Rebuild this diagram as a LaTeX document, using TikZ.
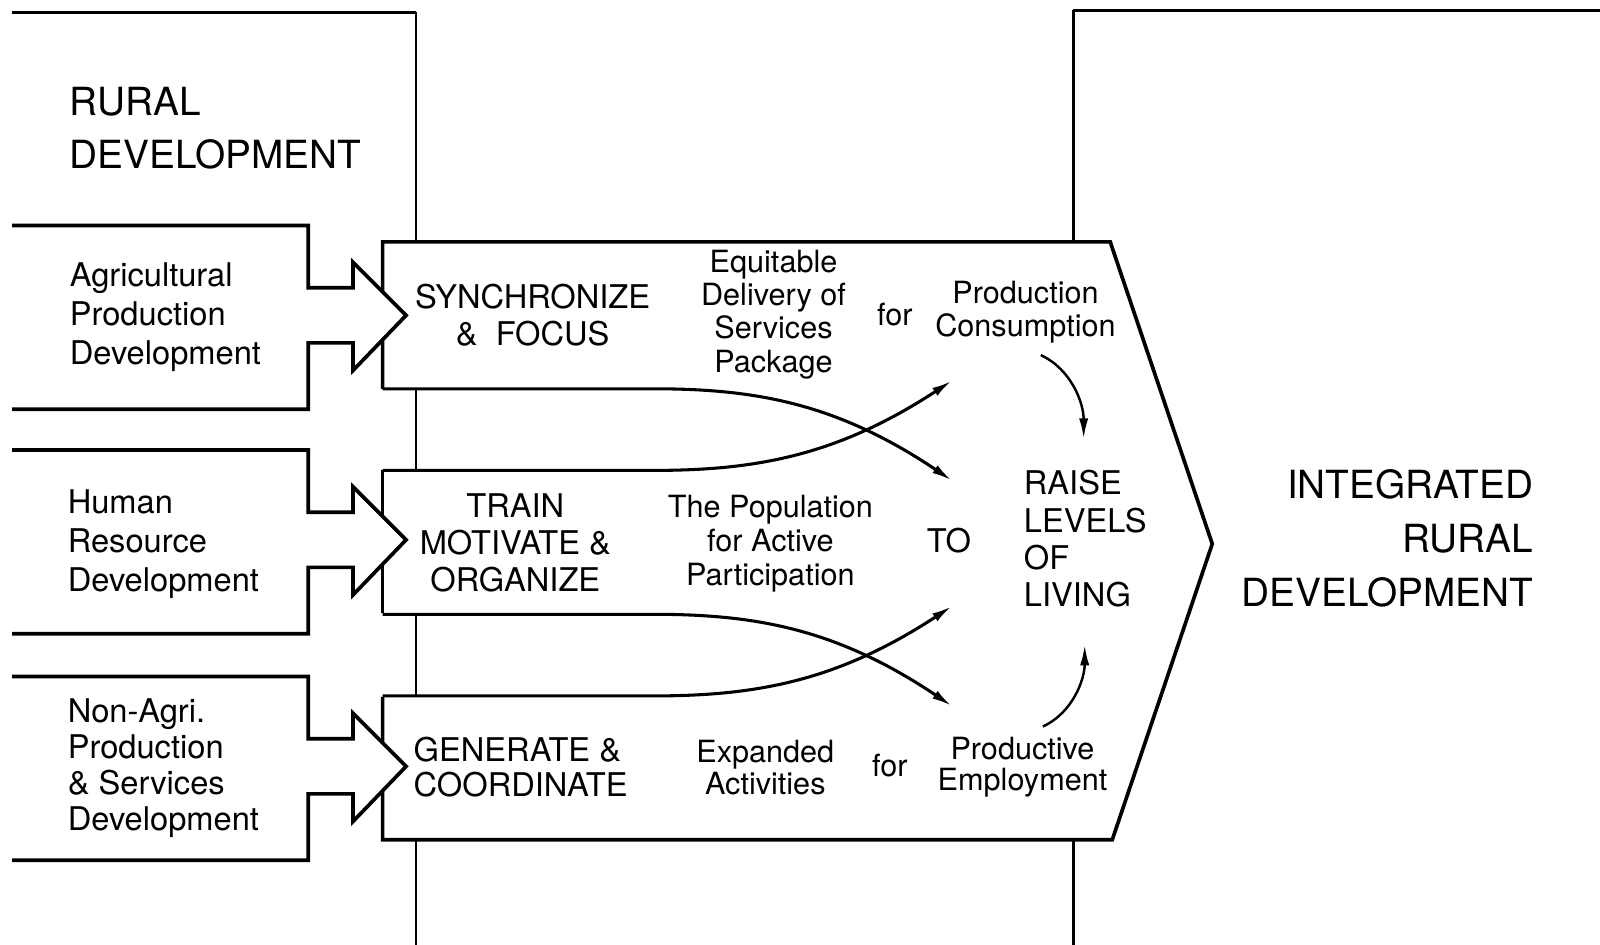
\documentclass[tikz,border=0pt]{standalone}
\usepackage{fontspec}
\setmainfont{TeX Gyre Heros}
\usetikzlibrary{arrows.meta}
\tikzset{
  frame/.style={line width=1pt},
  box/.style={line width=1.8pt, line join=miter},
  flow/.style={line width=1.5pt, -{Latex[length=10pt,width=4.5pt]}},
  big/.style={font=\fontsize{19}{26}\selectfont, inner sep=0pt},
  caps/.style={font=\fontsize{16}{18.3}\selectfont, inner sep=0pt},
  small/.style={font=\fontsize{15}{16.3}\selectfont, inner sep=0pt, align=center},
  src/.style={font=\fontsize{16}{19}\selectfont, inner sep=0pt, align=left},
}
\begin{document}
\begin{tikzpicture}[x=0.5pt, y=-0.5pt]
\useasboundingbox (0,0) rectangle (1568,926);

% background frames
\draw[frame, line width=1.4pt] (12,12) -- (408,12);
\draw[frame] (408,12) -- (408,926);
\draw[frame, line width=1.4pt] (1052,10) -- (1568,10);
\draw[frame] (1052,10) -- (1052,926);

% central block
\fill[white] (375,237) -- (1088,237) -- (1188,533) -- (1090,823) -- (375,823) -- cycle;
\draw[frame] (408,381) -- (408,461);
\draw[frame] (408,601) -- (408,683);
\draw[box] (375,381) -- (375,237) -- (1088,237) -- (1188,533) -- (1090,823) -- (375,823) -- (375,683);
\draw[box] (375,461) -- (375,601);

% crossing flows
\foreach \dy in {0,221} {
  \draw[flow] (375,381+\dy) -- (640,381+\dy) .. controls (740,381+\dy) and (820,395+\dy) .. (933,471+\dy);
  \draw[flow] (375,461+\dy) -- (640,461+\dy) .. controls (740,461+\dy) and (820,447+\dy) .. (933,373+\dy);
}
\draw[flow, line width=1.2pt] (1020,348) .. controls (1050,362) and (1062,395) .. (1062,430);
\draw[flow, line width=1.2pt] (1022,712) .. controls (1052,698) and (1063,665) .. (1063,632);

% input arrows
\foreach \yc in {309,529,751} {
  \filldraw[box, fill=white] (12,\yc-88) -- (302,\yc-88) -- (302,\yc-27) -- (346,\yc-27) -- (346,\yc-52)
    -- (398,\yc) -- (346,\yc+54) -- (346,\yc+27) -- (302,\yc+27) -- (302,\yc+92) -- (12,\yc+92);
}

% texts
\node[big, align=left, anchor=west] (rural) at (68,126) {RURAL\\DEVELOPMENT};
\node[src, anchor=west] (agri) at (68,311) {Agricultural\\Production\\Development};
\node[src, anchor=west] (human) at (66,533) {Human\\Resource\\Development};
\node[src, anchor=west, font=\fontsize{16}{17.7}\selectfont] (nonagri) at (66,753) {Non-Agri.\\Production\\\&~Services\\Development};

\node[caps, align=center] (sync) at (522,309) {SYNCHRONIZE\\\&~~FOCUS};
\node[caps, align=center] (train) at (505,532) {TRAIN\\MOTIVATE \&\\ORGANIZE};
\node[caps, align=left, anchor=west, font=\fontsize{16}{17}\selectfont] (generate) at (405,752) {GENERATE \&\\COORDINATE};

\node[small] (equit) at (758,308) {Equitable\\Delivery of\\Services\\Package};
\node[small] (for1) at (877,308) {for};
\node[small] (prodcons) at (1005,306) {Production\\Consumption};
\node[small, font=\fontsize{15}{16.8}\selectfont] (population) at (755,533) {The Population\\for Active\\Participation};
\node[caps] (to) at (930,530) {TO};
\node[caps, align=left, anchor=west] (raise) at (1003,528) {RAISE\\LEVELS\\OF\\LIVING};
\node[small, font=\fontsize{15}{15.5}\selectfont] (expanded) at (750,752) {Expanded\\Activities};
\node[small] (for2) at (872,750) {for};
\node[small, font=\fontsize{15}{15.5}\selectfont] (prodemp) at (1002,752) {Productive\\Employment};

\node[big, align=right, anchor=east, font=\fontsize{19}{26.5}\selectfont] (integ) at (1503,528) {INTEGRATED\\RURAL\\DEVELOPMENT};
\end{tikzpicture}
\end{document}
